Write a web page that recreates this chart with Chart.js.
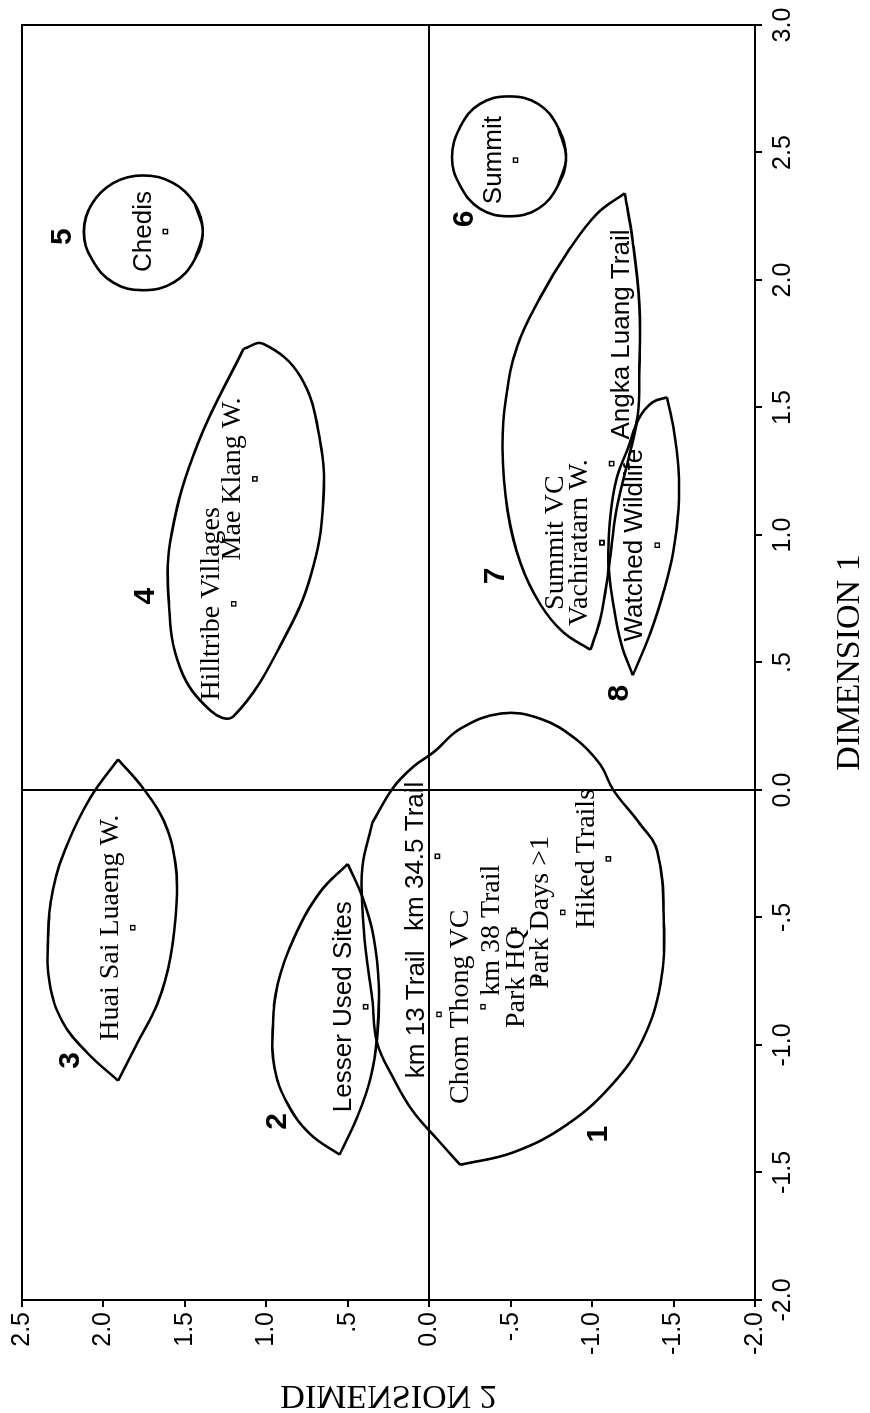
<!DOCTYPE html>
<html>
<head>
<meta charset="utf-8">
<script src="https://cdn.jsdelivr.net/npm/chart.js@4.4.1/dist/chart.umd.min.js"></script>
<style>
  html, body { margin: 0; padding: 0; background: #fff; overflow: hidden; }
  body { width: 870px; height: 1413px; position: relative; }
  /* the scanned page is turned a quarter turn, so the chart is drawn landscape and rotated */
  #page { position: absolute; left: 0; top: 0; width: 1413px; height: 870px; background: #fff;
          transform-origin: 0 0; transform: translate(0px, 1413px) rotate(-90deg); }
</style>
</head>
<body>
<div id="page"><canvas id="mdsChart" width="1413" height="870"></canvas></div>
<script>
// stimulus points: DIMENSION 1 (x) and DIMENSION 2 (y)
var names = ['Chedis', 'Summit', 'Mae Klang W.', 'Hilltribe Villages', 'Angka Luang Trail',
  'Summit VC', 'Vachiratarn W.', 'Watched Wildlife', 'Huai Sai Luaeng W.', 'Lesser Used Sites',
  'km 13 Trail', 'km 34.5 Trail', 'Chom Thong VC', 'km 38 Trail', 'Park HQ', 'Park Days >1', 'Hiked Trails'];
var dim1 = [2.19, 2.47, 1.22, 0.73, 1.28, 0.97, 0.97, 0.96, -0.54, -0.85, -0.88, -0.26, -0.85, -0.55, -0.74, -0.48, -0.27];
var dim2 = [1.62, -0.53, 1.07, 1.20, -1.12, -1.06, -1.06, -1.40, 1.82, 0.39, -0.06, -0.05, -0.33, -0.52, -0.67, -0.82, -1.10];

// cluster numbers
var clusterIds = ['1', '2', '3', '4', '5', '6', '7', '8'];
var clusterDim1 = [-1.35, -1.30, -1.06, 0.76, 2.17, 2.24, 0.84, 0.38];
var clusterDim2 = [-1.04, 0.93, 2.20, 1.74, 2.25, -0.22, -0.41, -1.17];

// axis ticks
var dim1Ticks = [-2, -1.5, -1, -0.5, 0, 0.5, 1, 1.5, 2, 2.5, 3];
var dim1TickLabels = ['-2.0', '-1.5', '-1.0', '-.5', '0.0', '.5', '1.0', '1.5', '2.0', '2.5', '3.0'];
var dim2Ticks = [-2, -1.5, -1, -0.5, 0, 0.5, 1, 1.5, 2, 2.5];
var dim2TickLabels = ['-2.0', '-1.5', '-1.0', '-.5', '0.0', '.5', '1.0', '1.5', '2.0', '2.5'];

// hand drawn cluster outlines, [dim1, dim2]
// (the two round ones go a step past their start so the curve closes smoothly)
var ring5 = [[2.30,1.44],[2.19,1.39],[2.08,1.44],[1.99,1.57],[1.96,1.76],[1.99,1.94],[2.08,2.07],[2.19,2.12],
  [2.30,2.07],[2.38,1.94],[2.41,1.76],[2.38,1.57],[2.30,1.44],[2.19,1.39],[2.08,1.44]];
var ring6 = [[2.60,-0.79],[2.48,-0.84],[2.37,-0.79],[2.28,-0.67],[2.25,-0.49],[2.28,-0.31],[2.37,-0.19],[2.48,-0.14],
  [2.60,-0.19],[2.69,-0.31],[2.72,-0.49],[2.69,-0.67],[2.60,-0.79],[2.48,-0.84],[2.37,-0.79]];
var ring4 = [[1.73,1.14],[1.75,1.02],[1.62,0.79],[1.37,0.67],[1.14,0.65],[0.88,0.71],[0.62,0.87],
  [0.29,1.20],[0.31,1.34],[0.48,1.53],[0.75,1.60],[1.01,1.58],[1.36,1.42],[1.73,1.14]];
var lens3a = [[0.12,1.91],[0.01,1.76],[-0.12,1.63],[-0.28,1.56],[-0.43,1.55],[-0.66,1.59],[-0.84,1.67],[-0.99,1.79],[-1.14,1.91]];
var lens3b = [[-1.14,1.91],[-1.03,2.10],[-0.91,2.25],[-0.76,2.33],[-0.58,2.34],[-0.39,2.31],[-0.21,2.22],[-0.03,2.08],[0.12,1.91]];
var lens2a = [[-0.29,0.50],[-0.42,0.41],[-0.58,0.34],[-0.76,0.31],[-0.97,0.32],[-1.13,0.36],[-1.28,0.44],[-1.43,0.55]];
var lens2b = [[-1.43,0.55],[-1.35,0.73],[-1.23,0.87],[-1.09,0.95],[-0.93,0.96],[-0.76,0.93],[-0.58,0.83],[-0.40,0.67],[-0.29,0.50]];
var blob1a = [[-0.13,0.35],[0.01,0.22],[0.09,0.10],[0.15,-0.03],[0.24,-0.19],[0.30,-0.44],[0.28,-0.68],[0.20,-0.90],
  [0.10,-1.05],[0.00,-1.13],[-0.13,-1.29],[-0.24,-1.40],[-0.52,-1.44],[-0.76,-1.42],[-0.98,-1.31],[-1.15,-1.13],
  [-1.31,-0.85],[-1.42,-0.52],[-1.47,-0.19]];
var blob1b = [[-0.13,0.35],[-0.30,0.41],[-0.47,0.41],[-0.63,0.39],[-0.82,0.35],[-0.99,0.32],[-1.13,0.22],[-1.26,0.10],[-1.37,-0.05],[-1.47,-0.19]];
var lens7a = [[2.34,-1.20],[2.15,-1.25],[1.90,-1.29],[1.66,-1.29],[1.47,-1.28],[1.29,-1.22],[1.10,-1.15],[0.86,-1.10],[0.67,-1.05],[0.55,-0.99]];
var lens7b = [[0.55,-0.99],[0.62,-0.82],[0.73,-0.68],[0.89,-0.56],[1.10,-0.48],[1.34,-0.45],[1.53,-0.47],[1.74,-0.54],
  [1.93,-0.68],[2.11,-0.85],[2.26,-1.03],[2.34,-1.20]];
var lens8a = [[1.54,-1.46],[1.42,-1.50],[1.26,-1.53],[1.10,-1.53],[0.94,-1.50],[0.78,-1.44],[0.62,-1.36],[0.45,-1.25]];
var lens8b = [[0.45,-1.25],[0.57,-1.18],[0.73,-1.13],[0.89,-1.10],[1.06,-1.11],[1.22,-1.15],[1.34,-1.22],[1.46,-1.29],[1.52,-1.37],[1.54,-1.46]];

var outlines = [ring5, ring6, ring4, lens3a, lens3b, lens2a, lens2b, blob1a, blob1b, lens7a, lens7b, lens8a, lens8b];

// label look
var SERIF = '"Liberation Serif", "DejaVu Serif", serif';
var SANS = '"Liberation Sans", "DejaVu Sans", sans-serif';
var sansLabels = ['Chedis', 'Summit', 'Angka Luang Trail', 'Watched Wildlife', 'Lesser Used Sites', 'km 13 Trail', 'km 34.5 Trail'];
var labelShift = {
  'Summit VC': { dx: 0, dy: -46, align: 'center' },
  'Angka Luang Trail': { dx: 24, dy: 10, align: 'left' }
};

var outlineSets = outlines.map(function(o) {
  return {
    data: o.map(function(p) { return { x: p[0], y: p[1] }; }),
    showLine: true,
    borderColor: '#000',
    borderWidth: 2.6,
    pointRadius: 0,
    tension: 0.4,
    fill: false
  };
});

var pointSet = {
  data: dim1.map(function(v, i) { return { x: v, y: dim2[i] }; }),
  pointStyle: 'rect',
  pointRadius: 3,
  borderColor: '#000',
  borderWidth: 1.4,
  backgroundColor: 'rgba(0,0,0,0)'
};

var framePlugin = {
  id: 'frame',
  beforeDraw: function(chart) {
    var c = chart.ctx;
    c.save();
    c.fillStyle = '#fff';
    c.fillRect(0, 0, chart.width, chart.height);
    c.restore();
  },
  afterDatasetsDraw: function(chart) {
    var c = chart.ctx, a = chart.chartArea;
    var xs = chart.scales.x, ys = chart.scales.y;
    c.save();
    c.strokeStyle = '#000';
    c.lineWidth = 2;
    c.strokeRect(a.left, a.top, a.right - a.left, a.bottom - a.top);

    // point labels, set above each point
    c.fillStyle = '#000';
    c.textBaseline = 'middle';
    for (var i = 0; i < names.length; i++) {
      var px = xs.getPixelForValue(dim1[i]);
      var py = ys.getPixelForValue(dim2[i]);
      var sh = labelShift[names[i]] || { dx: 0, dy: -22, align: 'center' };
      c.font = sansLabels.indexOf(names[i]) >= 0 ? '26px ' + SANS : '28px ' + SERIF;
      c.textAlign = sh.align;
      c.fillText(names[i], px + sh.dx, py + sh.dy);
    }

    // cluster numbers
    c.font = 'bold 30px ' + SANS;
    c.textAlign = 'center';
    for (var k = 0; k < clusterIds.length; k++) {
      c.fillText(clusterIds[k], xs.getPixelForValue(clusterDim1[k]), ys.getPixelForValue(clusterDim2[k]));
    }

    // DIMENSION 2 title: printed mirrored on the page
    c.translate(18, (a.top + a.bottom) / 2);
    c.rotate(Math.PI / 2);
    c.scale(1, -1);
    c.font = '34px ' + SERIF;
    c.textAlign = 'center';
    c.fillText('DIMENSION 2', 0, 0);
    c.restore();
  }
};

function zeroLine(c) {
  return (c.tick && c.tick.value === 0) ? '#000' : 'rgba(0,0,0,0)';
}

var ctx = document.getElementById('mdsChart');
var mdsChart = new Chart(ctx, {
  type: 'scatter',
  data: { datasets: outlineSets.concat([pointSet]) },
  options: {
    responsive: false,
    animation: false,
    devicePixelRatio: 1,
    layout: { padding: { top: 22, right: 25, left: 0, bottom: 0 } },
    plugins: {
      legend: { display: false },
      tooltip: { enabled: false }
    },
    scales: {
      x: {
        type: 'linear',
        position: 'bottom',
        min: -2,
        max: 3,
        afterBuildTicks: function(s) { s.ticks = dim1Ticks.map(function(v) { return { value: v }; }); },
        afterFit: function(s) { s.height = 115; },
        ticks: {
          autoSkip: false,
          maxRotation: 0,
          padding: 6,
          color: '#000',
          font: { family: SANS, size: 25 },
          callback: function(v, i) { return dim1TickLabels[i]; }
        },
        grid: { color: zeroLine, lineWidth: 2, tickColor: '#000', tickLength: 7, tickWidth: 2 },
        border: { display: true, color: '#000', width: 2 },
        title: { display: true, text: 'DIMENSION 1', color: '#000', font: { family: SERIF, size: 34 }, padding: 0 }
      },
      y: {
        type: 'linear',
        position: 'left',
        min: -2,
        max: 2.5,
        afterBuildTicks: function(s) { s.ticks = dim2Ticks.map(function(v) { return { value: v }; }); },
        afterFit: function(s) { s.width = 113; },
        ticks: {
          autoSkip: false,
          padding: 5,
          color: '#000',
          font: { family: SANS, size: 25 },
          callback: function(v, i) { return dim2TickLabels[i]; }
        },
        grid: { color: zeroLine, lineWidth: 2, tickColor: '#000', tickLength: 7, tickWidth: 2 },
        border: { display: true, color: '#000', width: 2 },
        title: { display: false }
      }
    }
  },
  plugins: [framePlugin]
});
</script>
</body>
</html>
